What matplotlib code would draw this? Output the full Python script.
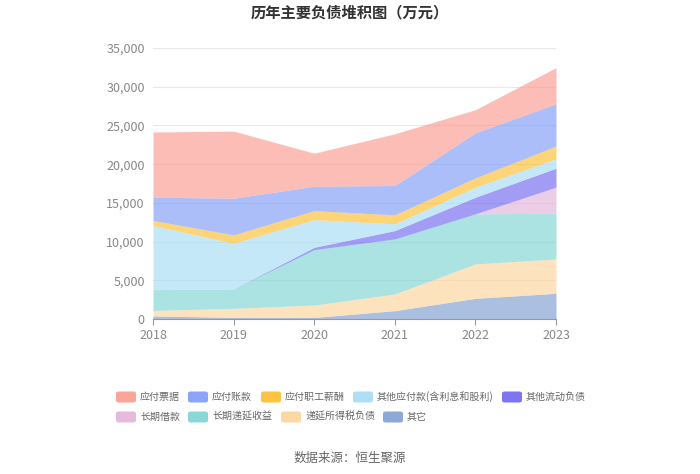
import matplotlib
matplotlib.use("Agg")
import matplotlib.pyplot as plt
from matplotlib.patches import FancyBboxPatch
import numpy as np

plt.rcParams['font.family'] = ['Noto Sans CJK SC', 'DejaVu Sans']

years = ['2018', '2019', '2020', '2021', '2022', '2023']

# 从下往上的堆叠顺序
other = [400, 200, 200, 1080, 2670, 3320]
deferred_tax = [700, 1180, 1600, 2150, 4440, 4440]
deferred_income = [2700, 2500, 7160, 7110, 6470, 5900]
long_loan = [0, 0, 0, 0, 0, 3370]
other_current = [0, 0, 300, 1080, 2150, 2450]
other_payable = [8280, 5900, 3580, 870, 1300, 1210]
salary = [650, 1080, 1160, 1160, 1200, 1640]
accounts_payable = [3010, 4740, 3150, 3790, 5820, 5470]
notes_payable = [8410, 8670, 4260, 6680, 2980, 4660]

series = [other, deferred_tax, deferred_income, long_loan, other_current,
          other_payable, salary, accounts_payable, notes_payable]
names = ['其它', '递延所得税负债', '长期递延收益', '长期借款', '其他流动负债',
         '其他应付款(含利息和股利)', '应付职工薪酬', '应付账款', '应付票据']
colors = ['#7f9fd2', '#fdd49a', '#7fd3d3', '#e3b3da', '#7067ef',
          '#a6dcf7', '#fdbd2e', '#7e9cf7', '#fa9a8f']

fig = plt.figure(figsize=(7, 4.74), dpi=100)
ax = fig.add_axes([153/700, 1-319/474, 403/700, 271/474])

x = np.arange(len(years))
base = np.zeros(len(years))
for vals, c in zip(series, colors):
    top = base + np.array(vals)
    ax.fill_between(x, base, top, color=c, alpha=0.65, linewidth=0)
    base = top

ax.set_xlim(0, len(years) - 1)
ax.set_ylim(0, 35000)
ax.set_yticks(np.arange(0, 35001, 5000))
ax.set_yticklabels([f'{v:,}' for v in range(0, 35001, 5000)])
ax.set_xticks(x)
ax.set_xticklabels(years)
ax.grid(axis='y', color='#e8e8e8', linewidth=0.8)
ax.set_axisbelow(True)
for s in ['top', 'right', 'left']:
    ax.spines[s].set_visible(False)
ax.spines['bottom'].set_color('#999999')
ax.tick_params(axis='y', length=0, colors='#888888', labelsize=9, pad=6)
ax.tick_params(axis='x', length=4, color='#999999', colors='#888888', labelsize=9)

fig.text(0.5, 1-12/474, '历年主要负债堆积图（万元）', ha='center', va='center',
         fontsize=11, fontweight='bold', color='#333333')

# 图例（按参考图顺序）
legend_order = [8, 7, 6, 5, 4, 3, 2, 1, 0]
legend_x = [116, 188, 261, 353, 502, 116, 188, 281, 383]
legend_y = [397, 397, 397, 397, 397, 417, 417, 417, 417]
for k, lx, ly in zip(legend_order, legend_x, legend_y):
    patch = FancyBboxPatch((lx/700, 1-(ly+5.5)/474), 20/700, 11/474,
                           boxstyle='round,pad=0,rounding_size=0.004',
                           transform=fig.transFigure, color=colors[k], alpha=0.9,
                           linewidth=0)
    fig.patches.append(patch)
    fig.text((lx+24)/700, 1-ly/474, names[k], ha='left', va='center',
             fontsize=7.2, color='#666666')

fig.text(0.5, 1-458/474, '数据来源：恒生聚源', ha='center', va='center',
         fontsize=9, color='#666666')

fig.savefig('out.png', dpi=100)
